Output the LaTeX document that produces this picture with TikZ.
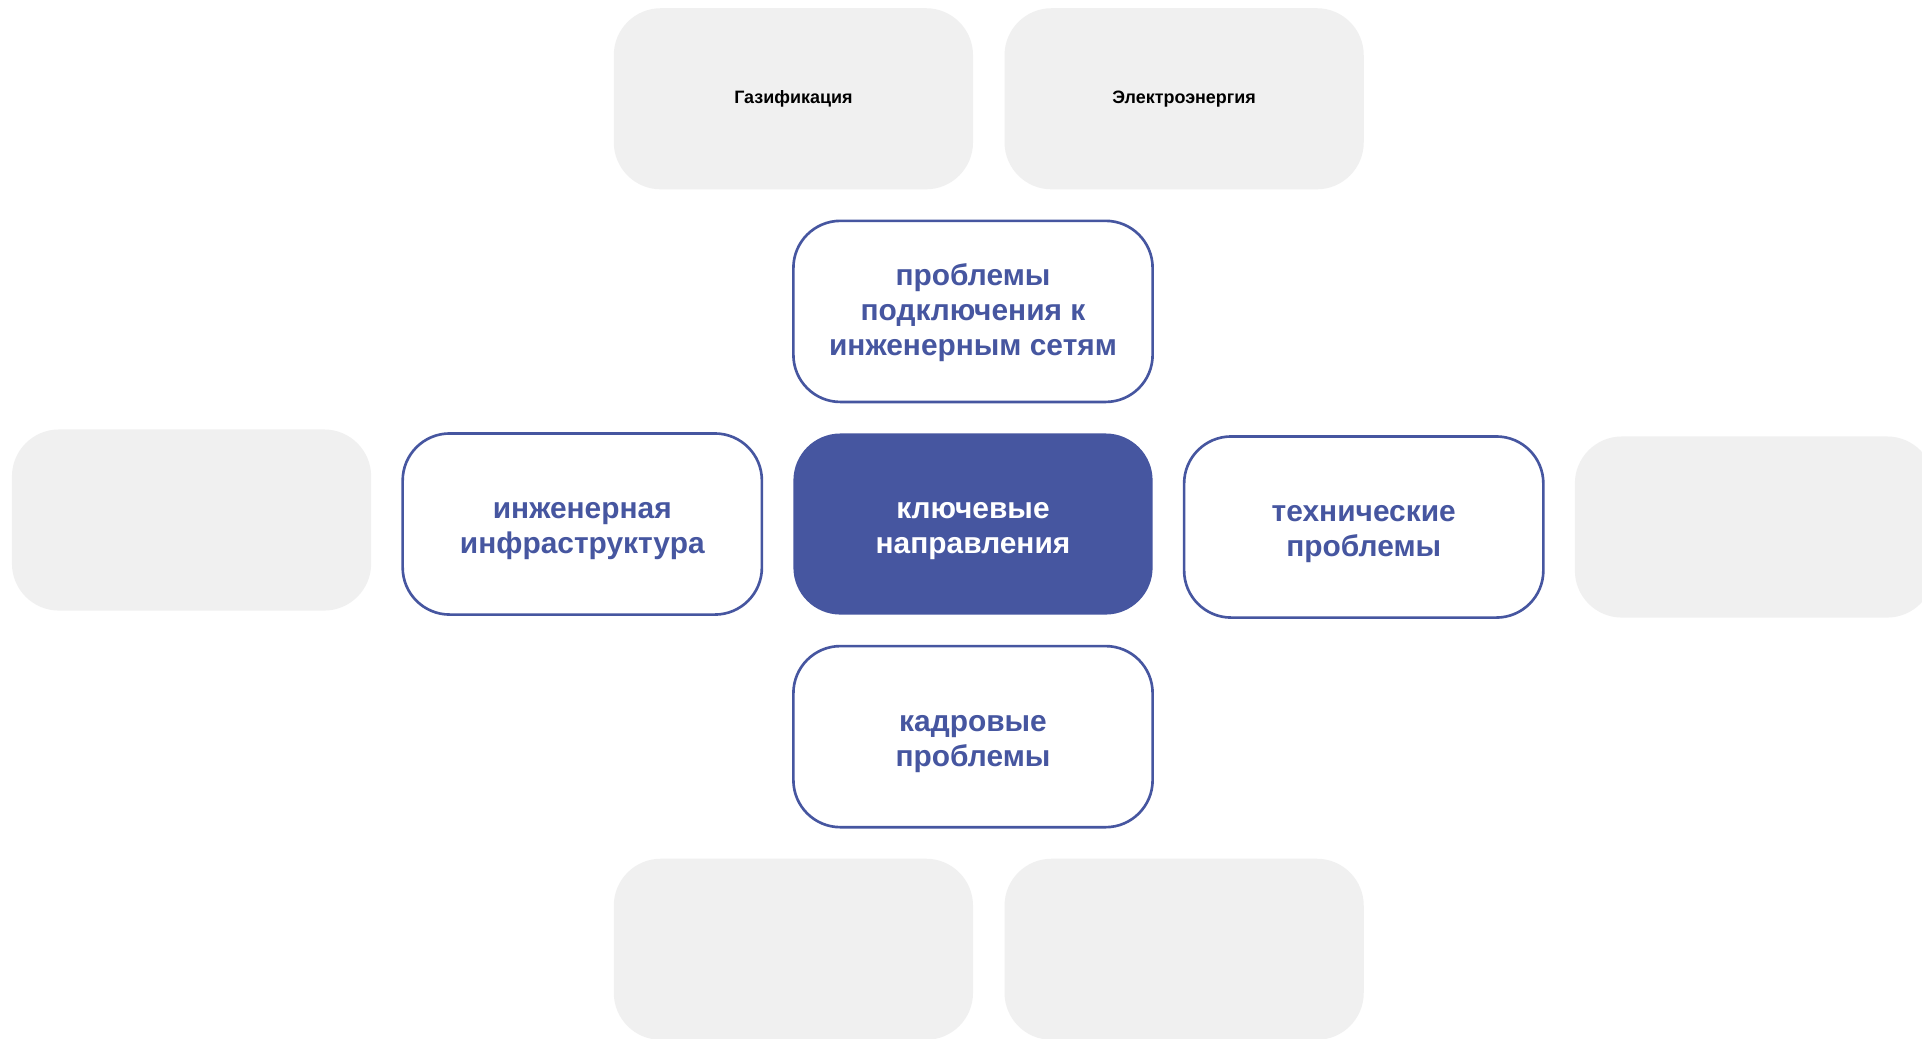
\documentclass[tikz,border=0pt]{standalone}
\usepackage{fontspec}
\setmainfont{Liberation Sans}
\usetikzlibrary{positioning}
\definecolor{keyblue}{RGB}{70,86,160}
\definecolor{softgray}{RGB}{240,240,240}
\newcommand{\lift}[1][8.6pt]{\rule{0pt}{#1}}

\begin{document}
\begin{tikzpicture}[
        x=0.01cm, y=-0.01cm,
        node distance=0.315cm,
        card/.style={rectangle, rounded corners=0.47cm, minimum width=3.59cm, minimum height=1.81cm, inner sep=0pt, outer sep=0pt, align=center, font=\bfseries\fontsize{8.5}{10}\selectfont},
        topic/.style={card, draw=keyblue, line width=0.75pt, fill=white, text=keyblue},
        hub/.style={card, fill=keyblue, text=white},
        spare/.style={card, fill=softgray, text=black, font=\bfseries\fontsize{5.1}{6}\selectfont}
    ]
    \clip (0,0) rectangle (1922,1038);
    \fill[white] (0,0) rectangle (1922,1038);

    \node (hub) [hub] at (973,524) {\lift ключевые\\направления};
    \node (connect) [topic, above=of hub] {\lift[7pt]проблемы\\подключения к\\инженерным сетям};
    \node (infra) [topic, left=of hub] {\lift инженерная\\инфраструктура};
    \node (tech) [topic, right=of hub, yshift=-0.03cm] {\lift технические\\проблемы};
    \node (staff) [topic, below=of hub] {\lift кадровые\\проблемы};

    \node (gas) [spare, above=of connect.north west] {Газификация};
    \node (power) [spare, right=of gas] {Электроэнергия};
    \node (leftgray) [spare, left=of infra, yshift=0.04cm] {};
    \node (rightgray) [spare, right=of tech] {};
    \node (lowleft) [spare, below=of staff.south west] {};
    \node (lowright) [spare, right=of lowleft] {};
    
\end{tikzpicture}
\end{document}
